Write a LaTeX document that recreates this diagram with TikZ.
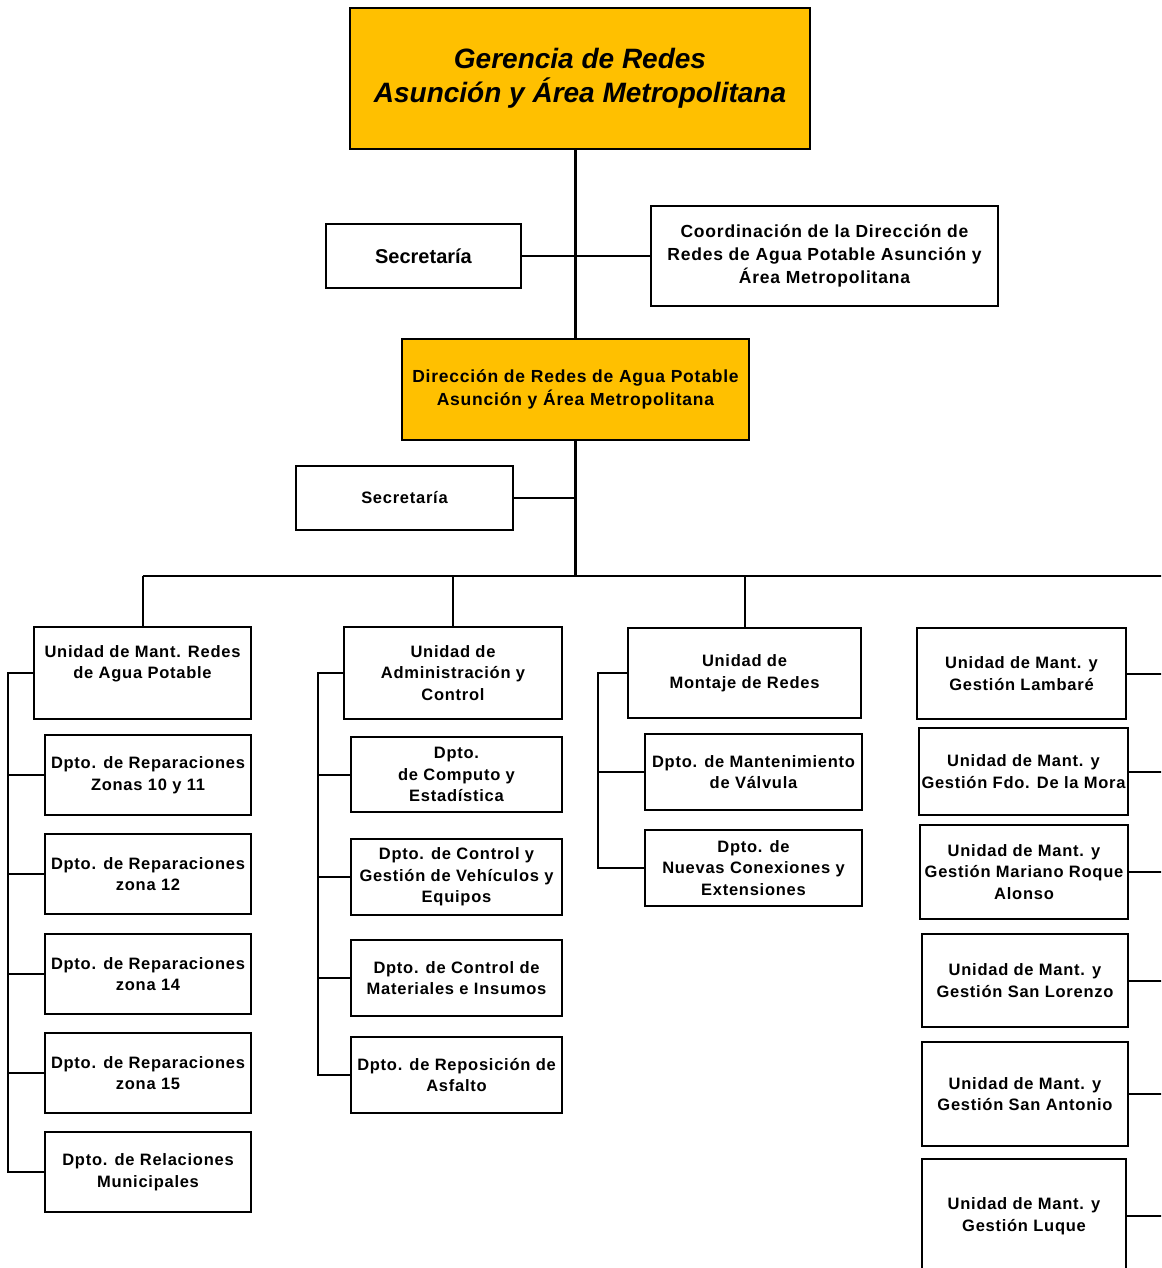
\documentclass[tikz,border=0pt]{standalone}
\usepackage{fontspec}
\setmainfont{Liberation Sans}
\newfontfamily\spacedfont[LetterSpace=4.5]{Liberation Sans}
\usepackage{tikz}
\usepackage{xcolor}
\definecolor{HeadGold}{RGB}{255,192,0}
\tikzset{
	box/.style={draw=black, line width=1.6pt, fill=white, align=center, inner sep=2pt,
		font=\spacedfont\fontsize{16.5}{21.5}\selectfont\bfseries},
	headbox/.style={box, fill=HeadGold},
	link/.style={black, line width=2pt},
	trunk/.style={black, line width=3pt},
}

\begin{document}
\begin{tikzpicture}[x=1pt, y=-1pt]
			
			\clip (0,0) rectangle (1161,1268);
			
			% Top levels
			\node[headbox, minimum width=460, minimum height=141,
				font=\rmfamily\fontsize{28}{34}\selectfont\bfseries\itshape] (gerencia) at (580,78.5)
				{Gerencia de Redes\\Asunción y Área Metropolitana};
			\node[box, minimum width=195, minimum height=64,
				font=\rmfamily\fontsize{20}{24}\selectfont\bfseries] (sec1) at (423.5,256) {Secretaría};
			\node[box, minimum width=347, minimum height=100,
				font=\spacedfont\fontsize{17.5}{23}\selectfont\bfseries] (coord) at (824.5,256)
				{Coordinación de la Dirección de\\Redes de Agua Potable Asunción y\\Área Metropolitana};
			\node[headbox, minimum width=347, minimum height=101,
				font=\spacedfont\fontsize{17.5}{23}\selectfont\bfseries] (direccion) at (575.5,389.5)
				{Dirección de Redes de Agua Potable\\Asunción y Área Metropolitana};
			\node[box, minimum width=217, minimum height=64] (sec2) at (404.5,498) {Secretaría};
			
			% Trunk and bus
			\coordinate (bus) at (575.5,576);
			\coordinate (edge) at (1170,0);
			\draw[trunk] (direccion.north |- gerencia.south) -- (direccion.north);
			\draw[trunk] (direccion.south) -- (bus);
			\draw[link] (sec1.east) -- (sec1.east -| direccion);
			\draw[link] (coord.west) -- (coord.west -| direccion);
			\draw[link] (sec2.east) -- (sec2.east -| direccion);
			
			% Column 1
			\node[box, minimum width=217, minimum height=92] (umant) at (142.5,673)
				{Unidad de Mant. Redes\\de Agua Potable\\\mbox{}};
			\node[box, minimum width=206, minimum height=80] (rep1) at (148,775)
				{Dpto. de Reparaciones\\Zonas 10 y 11};
			\node[box, minimum width=206, minimum height=80] (rep2) at (148,874)
				{Dpto. de Reparaciones\\zona 12};
			\node[box, minimum width=206, minimum height=80] (rep3) at (148,974)
				{Dpto. de Reparaciones\\zona 14};
			\node[box, minimum width=206, minimum height=80] (rep4) at (148,1073)
				{Dpto. de Reparaciones\\zona 15};
			\node[box, minimum width=206, minimum height=80] (relmun) at (148,1172)
				{Dpto. de Relaciones\\Municipales};
			
			% Column 2
			\node[box, minimum width=218, minimum height=92] (uadm) at (453,673)
				{Unidad de\\Administración y\\Control};
			\node[box, minimum width=211, minimum height=75] (computo) at (456.5,774.5)
				{Dpto.\\de Computo y\\Estadística};
			\node[box, minimum width=211, minimum height=76] (vehic) at (456.5,877)
				{Dpto. de Control y\\Gestión de Vehículos y\\Equipos};
			\node[box, minimum width=211, minimum height=76] (mater) at (456.5,978)
				{Dpto. de Control de\\Materiales e Insumos};
			\node[box, minimum width=211, minimum height=76] (asfalto) at (456.5,1075)
				{Dpto. de Reposición de\\Asfalto};
			
			% Column 3
			\node[box, minimum width=233, minimum height=90] (umont) at (744.5,673)
				{Unidad de\\Montaje de Redes};
			\node[box, minimum width=217, minimum height=76] (valv) at (753.5,772)
				{Dpto. de Mantenimiento\\de Válvula};
			\node[box, minimum width=217, minimum height=76] (conex) at (753.5,868)
				{Dpto. de\\Nuevas Conexiones y\\Extensiones};
			
			% Column 4
			\node[box, minimum width=209, minimum height=91] (lamb) at (1021.5,673.5)
				{Unidad de Mant. y\\Gestión Lambaré};
			\node[box, minimum width=209, minimum height=87] (mora) at (1023.5,771.5)
				{Unidad de Mant. y\\Gestión Fdo. De la Mora};
			\node[box, minimum width=208, minimum height=94] (roque) at (1024,872)
				{Unidad de Mant. y\\Gestión Mariano Roque\\Alonso};
			\node[box, minimum width=206, minimum height=93] (lorenzo) at (1025,980.5)
				{Unidad de Mant. y\\Gestión San Lorenzo};
			\node[box, minimum width=206, minimum height=104] (antonio) at (1025,1094)
				{Unidad de Mant. y\\Gestión San Antonio};
			\node[box, minimum width=204, minimum height=114] (luque) at (1024,1216)
				{Unidad de Mant. y\\Gestión Luque};
			
			% Bus and drops
			\draw[link] (umant.north |- bus) -- (bus -| edge);
			\draw[link] (umant.north |- bus) -- (umant.north);
			\draw[link] (uadm.north |- bus) -- (uadm.north);
			\draw[link] (umont.north |- bus) -- (umont.north);
			
			% Side rails
			\coordinate (rail1) at (8,0);
			\coordinate (rail2) at (318,0);
			\coordinate (rail3) at (598,0);
			\draw[link] (umant.west) -- (umant.west -| rail1) |- (relmun.west);
			\foreach \n in {rep1,rep2,rep3,rep4}
				\draw[link] (\n.west -| rail1) -- (\n.west);
			\draw[link] (uadm.west) -- (uadm.west -| rail2) |- (asfalto.west);
			\foreach \n in {computo,vehic,mater}
				\draw[link] (\n.west -| rail2) -- (\n.west);
			\draw[link] (umont.west) -- (umont.west -| rail3) |- (conex.west);
			\draw[link] (valv.west -| rail3) -- (valv.west);
			\foreach \n in {lamb,mora,roque,lorenzo,antonio,luque}
				\draw[link] (\n.east) -- (\n.east -| edge);
			
		\end{tikzpicture}
\end{document}
